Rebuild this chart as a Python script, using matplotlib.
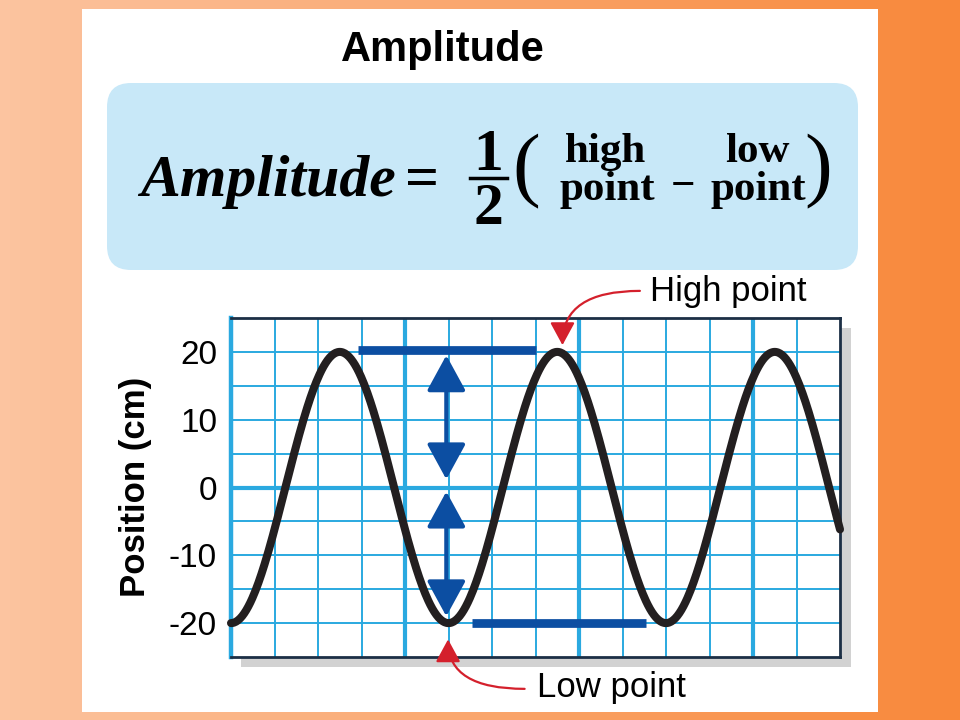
import numpy as np
import matplotlib.pyplot as plt
from matplotlib.patches import Rectangle, FancyBboxPatch

# wave: trough at 0, 5, 10; crest at 2.5, 7.5, 12.5
amplitude = 20
period = 5
t_start, t_end = 0, 14
y_ticks = [20, 10, 0, -10, -20]
y_tick_labels = ["20", "10", "0", "-10", "-20"]

# blue markers (x0, x1, y)
high_bar = (2.92, 7.0, 20.3)
low_bar = (5.54, 9.54, -20.0)
arrow_x = 4.95
upper_arrow = (19.5, 1.2)
lower_arrow = (-0.6, -19.0)

# red callouts: tip and text anchor
high_tip, high_text = (7.62, 21.0), (9.4, 29.0)
low_tip, low_text = (4.99, -22.4), (6.75, -29.7)

WAVE = "#231f20"
GRID = "#2aa9e0"
BLUE = "#0c4ea2"
RED = "#d4202c"
DARK = "#1c2f45"

fig = plt.figure(figsize=(9.6, 7.2), dpi=100)

# background layer in pixel coordinates
bg = fig.add_axes([0, 0, 1, 1])
bg.set_xlim(0, 960)
bg.set_ylim(720, 0)
bg.axis("off")
grad = np.linspace(0, 1, 96)
c_left = np.array([252, 196, 160]) / 255
c_right = np.array([248, 136, 58]) / 255
img = c_left[None, None, :] * (1 - grad[None, :, None]) + c_right[None, None, :] * grad[None, :, None]
img = np.repeat(img, 72, axis=0)
bg.imshow(img, extent=[0, 960, 720, 0], aspect="auto", zorder=0)
bg.add_patch(Rectangle((82, 9), 796, 703, facecolor="white", edgecolor="none", zorder=1))
bg.add_patch(FancyBboxPatch((107, 83), 751, 187, boxstyle="round,pad=0,rounding_size=24",
                            facecolor="#c8e8f8", edgecolor="none", zorder=2))
# drop shadow of the graph
bg.add_patch(Rectangle((241, 328), 610, 339, facecolor="#d2d2d2", edgecolor="none", zorder=2))

bg.text(443, 50, "Amplitude", fontsize=30, fontweight="bold", family="Liberation Sans",
        ha="center", va="center", zorder=3)

serif = "Liberation Serif"
bg.text(140, 196, "Amplitude", fontsize=43, fontweight="bold", style="italic", family=serif,
        ha="left", va="baseline", zorder=3)
bg.text(422, 196, "=", fontsize=43, fontweight="bold", family=serif, ha="center", va="baseline", zorder=3)
bg.text(488, 170, "1", fontsize=43, fontweight="bold", family=serif, ha="center", va="baseline", zorder=3)
bg.plot([470, 507], [178, 178], color="black", lw=2.5, zorder=3)
bg.text(488, 224, "2", fontsize=43, fontweight="bold", family=serif, ha="center", va="baseline", zorder=3)
bg.text(526, 172, "(", fontsize=60, family=serif, ha="center", va="center", zorder=3)
bg.text(606, 162, "high", fontsize=31, fontweight="bold", family=serif, ha="center", va="baseline", zorder=3)
bg.text(607, 200, "point", fontsize=31, fontweight="bold", family=serif, ha="center", va="baseline", zorder=3)
bg.text(683, 188, "\u2212", fontsize=31, fontweight="bold", family=serif, ha="center", va="center", zorder=3)
bg.text(757, 162, "low", fontsize=31, fontweight="bold", family=serif, ha="center", va="baseline", zorder=3)
bg.text(758, 200, "point", fontsize=31, fontweight="bold", family=serif, ha="center", va="baseline", zorder=3)
bg.text(818, 172, ")", fontsize=60, family=serif, ha="center", va="center", zorder=3)

bg.text(135, 487, "Position (cm)", fontsize=25, fontweight="bold", family="Liberation Sans",
        rotation=90, ha="center", va="center", zorder=3)
bg.text(650, 292, "High point", fontsize=25, family="Liberation Sans", ha="left", va="center", zorder=3)
bg.text(537, 688, "Low point", fontsize=25, family="Liberation Sans", ha="left", va="center", zorder=3)

# graph
ax = fig.add_axes([231 / 960, 1 - 657 / 720, 609 / 960, 339 / 720])
ax.set_xlim(t_start, t_end)
ax.set_ylim(-25, 25)
for gx in range(1, 14):
    ax.axvline(gx, color=GRID, lw=3.0 if gx % 4 == 0 else 1.4, zorder=1)
for gy in range(-20, 25, 5):
    ax.axhline(gy, color=GRID, lw=3.0 if gy == 0 else 1.4, zorder=1)

t = np.linspace(t_start, t_end, 600)
ax.plot(t, -amplitude * np.cos(2 * np.pi * t / period), color=WAVE, lw=5.8,
        solid_capstyle="round", zorder=4, clip_on=False)

ax.hlines(high_bar[2], high_bar[0], high_bar[1], color=BLUE, lw=6.3, zorder=3)
ax.hlines(low_bar[2], low_bar[0], low_bar[1], color=BLUE, lw=6.3, zorder=3)
for y0, y1 in (upper_arrow, lower_arrow):
    ax.annotate("", xy=(arrow_x, y1), xytext=(arrow_x, y0),
                arrowprops=dict(arrowstyle="<|-|>,head_length=1.1,head_width=0.6",
                                mutation_scale=20, lw=3, color=BLUE, shrinkA=0, shrinkB=0),
                zorder=5)

for tip, txt in ((high_tip, high_text), (low_tip, low_text)):
    ax.annotate("", xy=tip, xytext=txt, annotation_clip=False,
                arrowprops=dict(arrowstyle="-|>,head_length=0.7,head_width=0.38",
                                mutation_scale=20, lw=1.6, color=RED, shrinkA=0, shrinkB=0,
                                connectionstyle="angle3,angleA=0,angleB=90"),
                zorder=6)

ax.set_yticks(y_ticks)
ax.set_yticklabels(y_tick_labels, fontsize=24, family="Liberation Sans")
ax.set_xticks([])
ax.tick_params(axis="y", length=0, pad=10)
ax.spines["left"].set_color(GRID)
ax.spines["left"].set_linewidth(3.2)
for side in ("top", "right", "bottom"):
    ax.spines[side].set_color(DARK)
    ax.spines[side].set_linewidth(2)

fig.savefig("out.png", dpi=100)
